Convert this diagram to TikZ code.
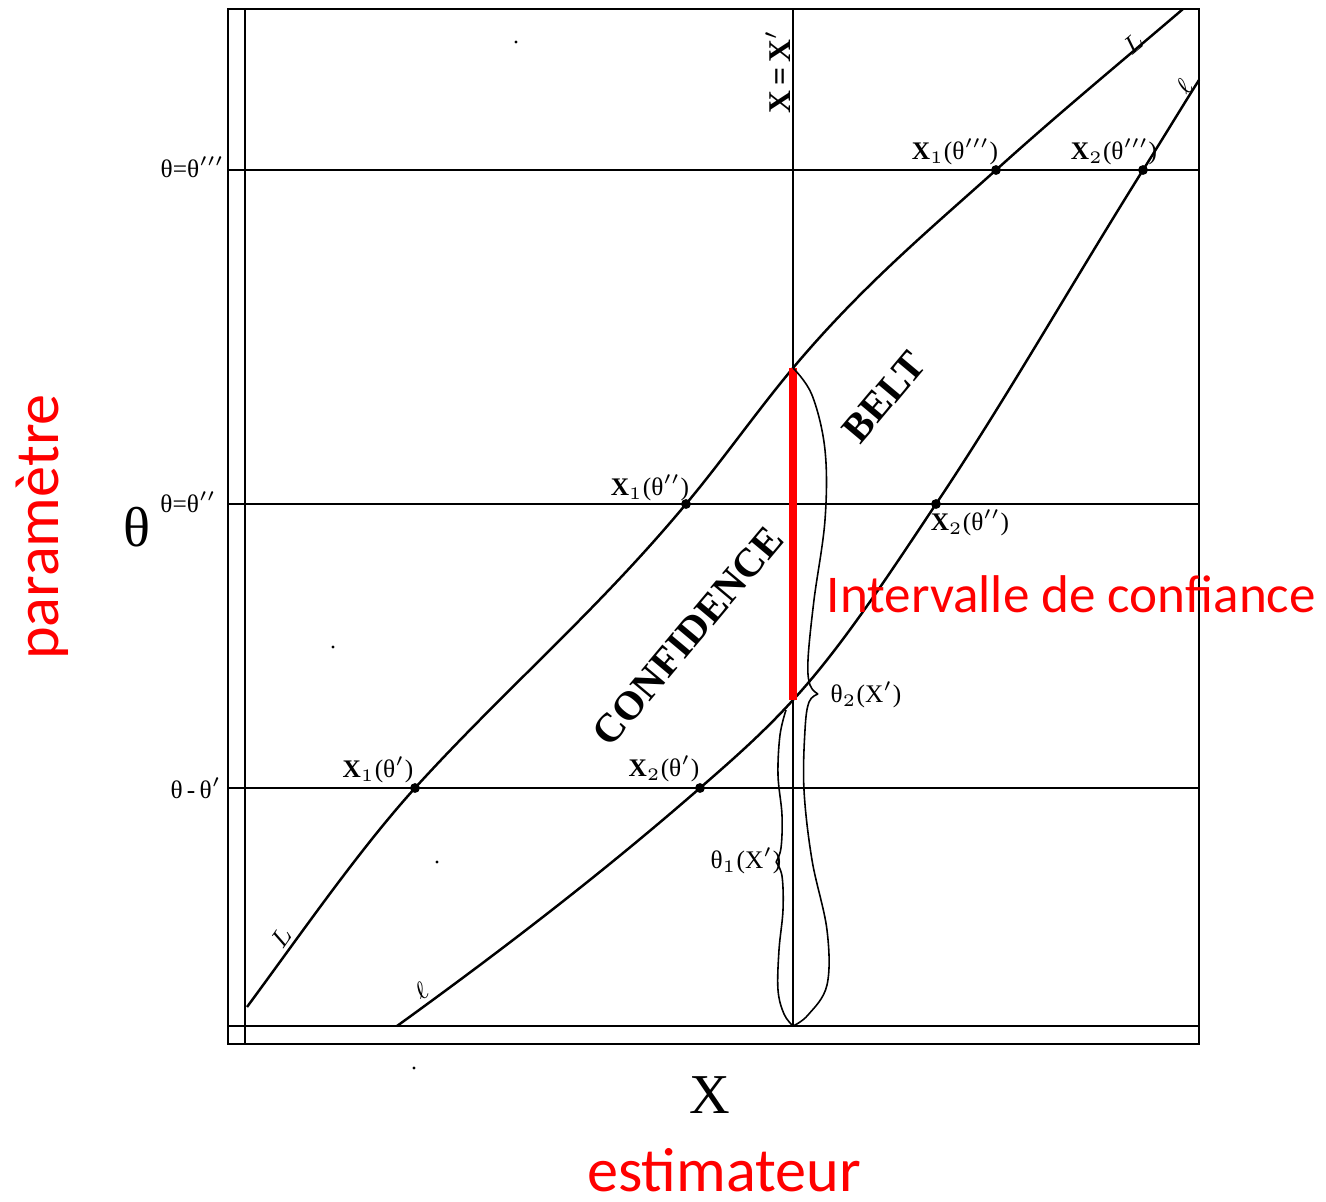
\documentclass[tikz,border=0pt]{standalone}
\usepackage{fontspec}
\newfontfamily\calib{Carlito}
\newfontfamily\timesf{Liberation Serif}
\begin{document}
\begin{tikzpicture}[x=0.01cm,y=-0.01cm,
  frame/.style={line width=0.6pt},
  curve/.style={line width=0.7pt},
  bracel/.style={line width=0.45pt},
  dot/.style={circle,fill,inner sep=0pt,minimum size=2.8pt},
  speck/.style={circle,fill,inner sep=0pt,minimum size=0.9pt},
  lbl/.style={font=\timesf\fontsize{7.2}{9}\selectfont,inner sep=0pt},
  axlbl/.style={font=\timesf\fontsize{7.2}{9}\selectfont,inner sep=0pt,anchor=east},
  curvelbl/.style={font=\fontsize{7.5}{9}\selectfont,inner sep=0pt},
  biglbl/.style={font=\timesf\fontsize{16}{19}\selectfont,inner sep=0pt},
  beltlbl/.style={font=\timesf\bfseries\fontsize{11.5}{13}\selectfont,inner sep=0pt,rotate=50},
  redlbl/.style={text=red,font=\calib\fontsize{17.7}{20}\selectfont,inner sep=0pt},
  redint/.style={text=red,font=\calib\fontsize{15.1}{18}\selectfont,inner sep=0pt}]
\fill[white] (0,0) rectangle (1326,1202);
\useasboundingbox (0,0) rectangle (1326,1202);

% frame
\coordinate (TL) at (228,9);
\coordinate (BR) at (1199,1044);
\coordinate (inTop) at (245,9);
\coordinate (inBot) at (245,1044);
\coordinate (hbL) at (228,1026);
\coordinate (hbR) at (1199,1026);
\draw[frame] (TL) rectangle (BR);
\draw[frame] (inTop) -- (inBot);
\draw[frame] (hbL) -- (hbR);

% horizontal theta lines
\coordinate (h3L) at (228,170); \coordinate (h3R) at (1199,170);
\coordinate (h2L) at (228,504); \coordinate (h2R) at (1199,504);
\coordinate (h1L) at (228,788); \coordinate (h1R) at (1199,788);
\draw[frame] (h3L) -- (h3R);
\draw[frame] (h2L) -- (h2R);
\draw[frame] (h1L) -- (h1R);

% vertical X = X'
\coordinate (vT) at (793,9);
\coordinate (vB) at (793,1026);
\draw[frame] (vT) -- (vB);

% intersection points
\coordinate (L1) at (415,788);
\coordinate (L2) at (686,504);
\coordinate (L3) at (996,170);
\coordinate (LX) at (793,368);
\coordinate (l1) at (700,788);
\coordinate (l2) at (936,504);
\coordinate (l3) at (1143,170);
\coordinate (lX) at (793,700);
\coordinate (Lb) at (247,1007);
\coordinate (Lt) at (1183,9);
\coordinate (lb) at (397,1026);
\coordinate (lt) at (1199,80);

% curve L
\draw[curve] (Lb) .. controls (303,931) and (359,850) .. (L1)
  .. controls (505,689) and (596,612) .. (L2)
  .. controls (722,461) and (757,411) .. (LX)
  .. controls (861,287) and (928,231) .. (L3)
  .. controls (1058,114) and (1121,62) .. (Lt);
% curve l
\draw[curve] (lb) .. controls (498,953) and (599,876) .. (l1)
  .. controls (731,761) and (762,734) .. (lX)
  .. controls (841,648) and (888,576) .. (l2)
  .. controls (1005,401) and (1074,280) .. (l3)
  .. controls (1162,140) and (1180,110) .. (lt);

% dots
\node[dot] (d1) at (L1) {};
\node[dot] (d2) at (L2) {};
\node[dot] (d3) at (L3) {};
\node[dot] (d4) at (l1) {};
\node[dot] (d5) at (l2) {};
\node[dot] (d6) at (l3) {};

% red interval
\draw[red,line width=2.3pt] (LX) -- (lX);

% braces
\draw[bracel] plot[smooth,tension=0.6] coordinates {(LX) (812,395) (825,450) (825,520) (814,600) (808,660) (810,685) (818,694)};
\draw[bracel] plot[smooth,tension=0.6] coordinates {(818,694) (809,702) (805,730) (804,790) (812,860) (827,930) (827,985) (808,1015) (vB)};
\draw[bracel] plot[smooth,tension=0.6] coordinates {(786,710) (780,735) (778,775) (782,815) (781,848) (776,862)};
\draw[bracel] plot[smooth,tension=0.6] coordinates {(776,862) (782,876) (783,910) (779,950) (778,990) (784,1014) (vB)};

% axis labels
\node[axlbl] (a3) at (225,167) {θ=θ$'''$};
\node[axlbl] (a2) at (217,502) {θ=θ$''$};
\node[axlbl] (a1) at (222,788) {θ\,-\,θ$'$};
\node[lbl,font=\timesf\bfseries\fontsize{9}{10}\selectfont,rotate=90] (xx) at (778,72) {X\,=\,X$'$};

% point labels
\node[lbl] (x13) at (955,152) {{\bfseries X}$_1$(θ$'''$)};
\node[lbl] (x23) at (1114,152) {{\bfseries X}$_2$(θ$'''$)};
\node[lbl] (x12) at (650,488) {{\bfseries X}$_1$(θ$''$)};
\node[lbl] (x22) at (970,523) {{\bfseries X}$_2$(θ$''$)};
\node[lbl] (x11) at (378,770) {{\bfseries X}$_1$(θ$'$)};
\node[lbl] (x21) at (664,769) {{\bfseries X}$_2$(θ$'$)};
\node[lbl] (t2) at (866,695) {θ$_2$(X$'$)};
\node[lbl] (t1) at (746,861) {θ$_1$(X$'$)};

% curve labels
\node[curvelbl,rotate=40] (Ltop) at (1133,44) {$L$};
\node[curvelbl,rotate=55] (Lbot) at (281,938) {$L$};
\node[curvelbl,rotate=55] (ltop) at (1184,87) {$\ell$};
\node[curvelbl,rotate=35] (lbot) at (421,991) {$\ell$};

% belt text
\node[beltlbl] (conf) at (688,636) {CONFIDENCE};
\node[beltlbl] (belt) at (884,397) {BELT};

% big axis letters
\node[biglbl] (bigT) at (137,527) {θ};
\node[biglbl] (bigX) at (710,1095) {X};

% red annotations
\node[redlbl,rotate=90] (par) at (42,527) {paramètre};
\node[redlbl] (est) at (724,1170) {estimateur};
\node[redint,anchor=west] (ic) at (826,594) {Intervalle de confiance};

% scan specks
\node[speck] (s1) at (516,42) {};
\node[speck] (s2) at (333,647) {};
\node[speck] (s3) at (437,862) {};
\node[speck] (s4) at (414,1068) {};
\end{tikzpicture}
\end{document}
